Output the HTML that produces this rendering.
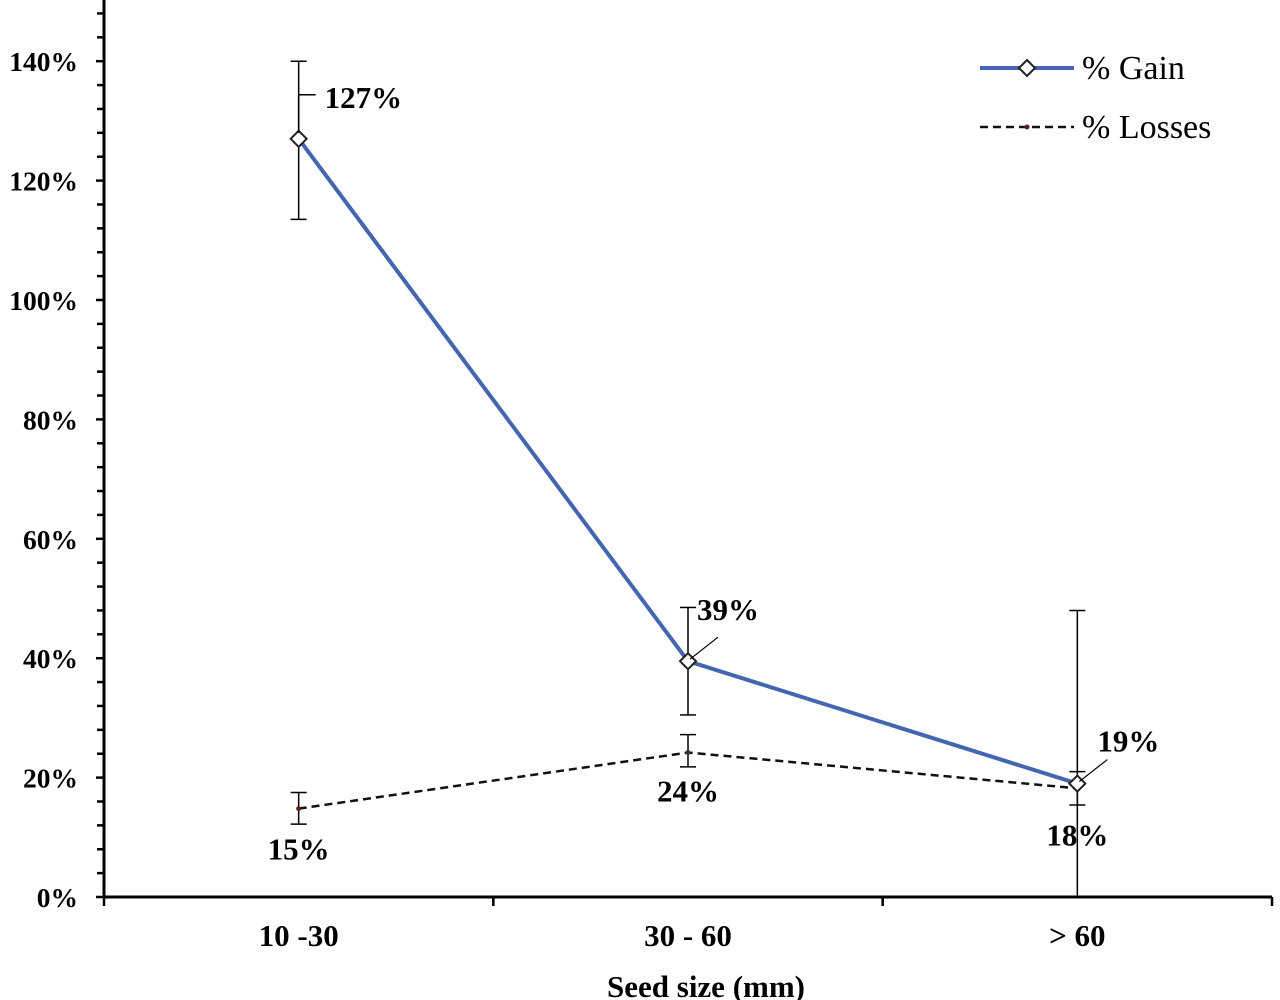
<!DOCTYPE html>
<html><head><meta charset="utf-8"><style>
html,body{margin:0;padding:0;background:#fff;}
svg{display:block;font-family:"Liberation Serif",serif;}
</style></head><body>
<svg id="chart" width="1280" height="1000" xmlns="http://www.w3.org/2000/svg"></svg>
<script>
const categories = ["10 -30", "30 - 60", "> 60"];
const gainValues = [127, 39.5, 19];
const gainErrLow = [113.5, 30.5, 0];
const gainErrHigh = [140, 48.5, 48];
const gainLabels = ["127%", "39%", "19%"];
const lossValues = [14.8, 24.2, 18.2];
const lossErrLow = [12.2, 21.8, 15.4];
const lossErrHigh = [17.5, 27.2, 21];
const lossLabels = ["15%", "24%", "18%"];
const yTicks = [0, 20, 40, 60, 80, 100, 120, 140];

const NS = "http://www.w3.org/2000/svg";
const svg = document.getElementById("chart");
const x0 = 104, x1 = 1272, yBase = 897, pxPer = 5.97;
const bandW = (x1 - x0) / categories.length;
const xs = i => x0 + bandW * (i + 0.5);
const ys = v => yBase - v * pxPer;
function mk(tag, attrs, parent) {
  const e = document.createElementNS(NS, tag);
  for (const k in attrs) e.setAttribute(k, attrs[k]);
  (parent || svg).appendChild(e);
  return e;
}
let g = mk("g", {});


mk("line", {x1: x0, y1: 0, x2: x0, y2: yBase + 1, stroke: "#000", "stroke-width": 3}, g);
for (let v = 0; v <= 150; v += 4) {
  const major = v % 20 === 0;
  mk("line", {x1: x0 - (major ? 8 : 7), y1: ys(v), x2: x0, y2: ys(v), stroke: "#000", "stroke-width": 2.5}, g);
}
yTicks.forEach(v => {
  const t = mk("text", {x: 78, y: ys(v) + 10, "text-anchor": "end", "font-size": 27.5, "font-weight": "bold"}, g);
  
  
  t.textContent = v + "%";
});
g = mk("g", {});


mk("line", {x1: x0, y1: yBase, x2: x1, y2: yBase, stroke: "#000", "stroke-width": 3}, g);
for (let i = 0; i <= categories.length; i++) {
  mk("line", {x1: x0 + bandW * i, y1: yBase, x2: x0 + bandW * i, y2: yBase + 9, stroke: "#000", "stroke-width": 2.5}, g);
}
categories.forEach((c, i) => {
  const t = mk("text", {x: xs(i), y: 946, "text-anchor": "middle", "font-size": 31, "font-weight": "bold"}, g);
  
  
  t.textContent = c;
});
let t = mk("text", {x: 706, y: 997, "text-anchor": "middle", "font-size": 31, "font-weight": "bold"});


t.textContent = "Seed size (mm)";

function errBars(lo, hi, name) {
  lo.forEach((l, i) => {
    const eg = mk("g", {stroke: "#000", "stroke-width": 1.5});
    
    
    const x = xs(i);
    mk("line", {x1: x, y1: ys(l), x2: x, y2: ys(hi[i])}, eg);
    mk("line", {x1: x - 8, y1: ys(hi[i]), x2: x + 8, y2: ys(hi[i])}, eg);
    if (l > 0) mk("line", {x1: x - 8, y1: ys(l), x2: x + 8, y2: ys(l)}, eg);
  });
}
errBars(gainErrLow, gainErrHigh, 'gain-error-bar');
errBars(lossErrLow, lossErrHigh, 'loss-error-bar');

let p = mk("polyline", {points: lossValues.map((v, i) => xs(i) + "," + ys(v)).join(" "), fill: "none", stroke: "#111", "stroke-width": 2.5, "stroke-dasharray": "8,5"});


lossValues.forEach((v, i) => {
  const c = mk("circle", {cx: xs(i), cy: ys(v), r: 2.5, fill: "#5a2020"});
  
  
});
p = mk("polyline", {points: gainValues.map((v, i) => xs(i) + "," + ys(v)).join(" "), fill: "none", stroke: "#4466b0", "stroke-width": 4});


function diamond(cx, cy, name) {
  const d = mk("polygon", {points: `${cx},${cy-8} ${cx+8},${cy} ${cx},${cy+8} ${cx-8},${cy}`, fill: "#fff", stroke: "#222", "stroke-width": 2});
  
  
}
gainValues.forEach((v, i) => diamond(xs(i), ys(v), 'gain-point'));

const gainOff = [[26, -42], [9, -52], [20, -43]];
gainValues.forEach((v, i) => {
  const x = xs(i), y = ys(v), o = gainOff[i];
  if (i === 0) {
    mk("line", {x1: x, y1: y - 6, x2: x, y2: y - 44, stroke: "#000", "stroke-width": 1.5});
    mk("line", {x1: x, y1: y - 44, x2: x + 17, y2: y - 44, stroke: "#000", "stroke-width": 1.5});
  } else {
    mk("line", {x1: x + 2, y1: y - 2, x2: x + 30, y2: y - 24, stroke: "#000", "stroke-width": 1.2});
  }
  const tt = mk("text", {x: x + o[0], y: y + o[1] + 11, "font-size": 31, "font-weight": "bold"});
  
  
  tt.textContent = gainLabels[i];
});
const lossOff = [40, 38, 46];
lossValues.forEach((v, i) => {
  const tt = mk("text", {x: xs(i), y: ys(v) + lossOff[i] + 11, "text-anchor": "middle", "font-size": 31, "font-weight": "bold"});
  
  
  tt.textContent = lossLabels[i];
});

const lg = mk("g", {});


mk("line", {x1: 980, y1: 68, x2: 1074, y2: 68, stroke: "#4466b0", "stroke-width": 4}, lg);
diamond(1027, 68, 'legend-gain-marker');
t = mk("text", {x: 1082, y: 79, "font-size": 34}, lg);


t.textContent = "% Gain";
mk("line", {x1: 980, y1: 127, x2: 1074, y2: 127, stroke: "#111", "stroke-width": 2.5, "stroke-dasharray": "8,5"}, lg);
mk("circle", {cx: 1027, cy: 127, r: 2.5, fill: "#5a2020"}, lg);
t = mk("text", {x: 1082, y: 138, "font-size": 34}, lg);


t.textContent = "% Losses";
</script>
</body></html>
